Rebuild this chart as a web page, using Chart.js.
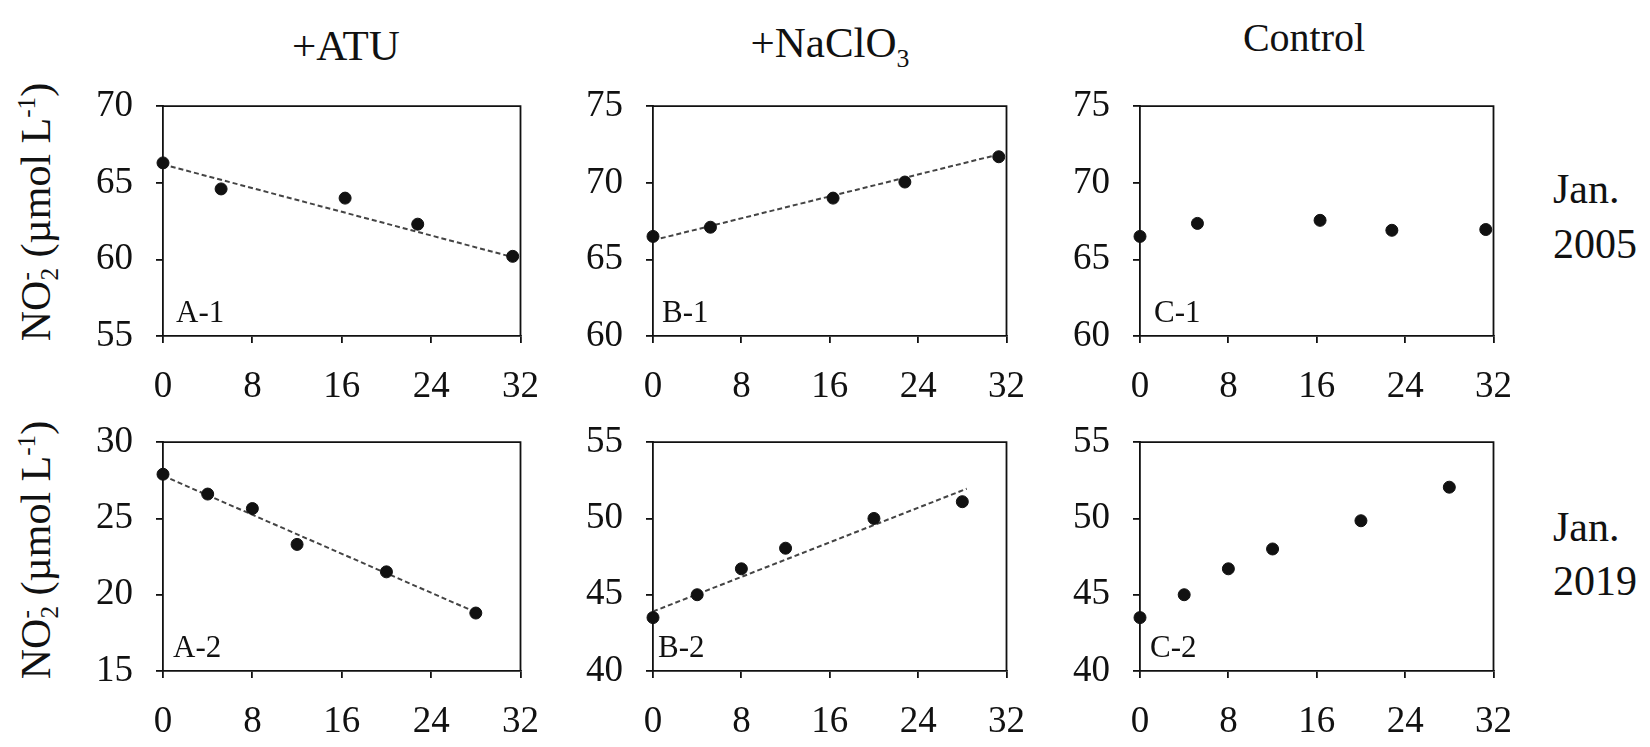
<!DOCTYPE html>
<html>
<head>
<meta charset="utf-8">
<script src="https://cdn.jsdelivr.net/npm/chart.js@4.4.0/dist/chart.umd.min.js"></script>
<style>
    body {
        margin: 0;
        width: 1650px;
        height: 747px;
        overflow: hidden;
        position: relative;
        background: #fff;
        color: #111;
        font-family: 'Liberation Serif', 'Times New Roman', serif;
    }
    .panel { position: absolute; }
    .txt { position: absolute; white-space: nowrap; line-height: 1; }
    .title { font-size: 43px; transform: translateX(-50%); }
    .tag { font-size: 31px; }
    .row { font-size: 42px; }
    .ytitle {
        font-size: 42px;
        transform: translate(-50%, -50%) rotate(-90deg);
    }
    .ytitle sup, .ytitle sub, .title sub { font-size: 0.6em; line-height: 0; }
    .ss {
        display: inline-block;
        vertical-align: -0.32em;
        font-size: 0.6em;
        line-height: 0.95;
        text-align: left;
    }
    .ss span { display: block; }
</style>
</head>
<body>

<div class="txt title" style="left:346px; top:24px;">+ATU</div>
<div class="txt title" style="left:830px; top:21px;">+NaClO<sub>3</sub></div>
<div class="txt title" style="left:1304px; top:18px; font-size:40px;">Control</div>

<div class="txt row" style="left:1553px; top:168px;">Jan.</div>
<div class="txt row" style="left:1553px; top:223px;">2005</div>
<div class="txt row" style="left:1553px; top:506px;">Jan.</div>
<div class="txt row" style="left:1553px; top:560px;">2019</div>

<div class="txt ytitle" style="left:38px; top:212px;">NO<span class="ss"><span>-</span><span>2</span></span> (µmol L<sup>-1</sup>)</div>
<div class="txt ytitle" style="left:38px; top:550px;">NO<span class="ss"><span>-</span><span>2</span></span> (µmol L<sup>-1</sup>)</div>

<script>
// Días de muestreo (eje x)
const days2005 = [0, 5.2, 16.3, 22.8, 31.3];
const days2019 = [0, 4, 8, 12, 20, 28];
const xTicks = [0, 8, 16, 24, 32];

// NO2- (µmol L-1), Jan. 2005
const atu2005 = [66.3, 64.6, 64.0, 62.3, 60.2];
const naclo2005 = [66.5, 67.1, 69.0, 70.05, 71.7];
const control2005 = [66.5, 67.35, 67.55, 66.9, 66.95];

// NO2- (µmol L-1), Jan. 2019
const atu2019 = [27.9, 26.6, 25.65, 23.3, 21.5, 18.8];
const naclo2019 = [43.5, 45.0, 46.7, 48.05, 50.0, 51.1];
const control2019 = [43.5, 45.0, 46.7, 48.0, 49.85, 52.05];

// Líneas de tendencia (extremos)
const trendDaysA1 = [0, 31.3];
const trendA1 = [66.2, 60.15];
const trendDaysB1 = [0, 31.3];
const trendB1 = [66.25, 71.85];
const trendDaysA2 = [0, 28];
const trendA2 = [27.8, 18.85];
const trendDaysB2 = [0, 28.4];
const trendB2 = [43.9, 51.95];

// Rangos del eje y
const yRangeA1 = [55, 70];
const yRangeB1 = [60, 75];
const yRangeC1 = [60, 75];
const yRangeA2 = [15, 30];
const yRangeB2 = [40, 55];
const yRangeC2 = [40, 55];

const FONT = "'Liberation Serif', 'Times New Roman', serif";
const INK = '#111';

function toPoints(xs, ys) {
    return xs.map((x, i) => ({ x: x, y: ys[i] }));
}

// Marco superior y derecho del área del gráfico
const framePlugin = {
    id: 'frame',
    beforeDatasetsDraw(chart) {
        const { ctx, chartArea: a } = chart;
        ctx.save();
        ctx.strokeStyle = INK;
        ctx.lineWidth = 1.8;
        ctx.beginPath();
        ctx.moveTo(a.left, a.top);
        ctx.lineTo(a.right, a.top);
        ctx.lineTo(a.right, a.bottom);
        ctx.stroke();
        ctx.restore();
    }
};

const panels = [
    { tag: 'A-1', xs: days2005, ys: atu2005, tx: trendDaysA1, ty: trendA1, range: yRangeA1, left: 163, right: 531, top: 91, bottom: 336, tagDx: 13 },
    { tag: 'B-1', xs: days2005, ys: naclo2005, tx: trendDaysB1, ty: trendB1, range: yRangeB1, left: 653, right: 1017, top: 91, bottom: 336, tagDx: 9 },
    { tag: 'C-1', xs: days2005, ys: control2005, tx: null, ty: null, range: yRangeC1, left: 1140, right: 1504, top: 91, bottom: 336, tagDx: 14 },
    { tag: 'A-2', xs: days2019, ys: atu2019, tx: trendDaysA2, ty: trendA2, range: yRangeA2, left: 163, right: 531, top: 427, bottom: 671, tagDx: 10 },
    { tag: 'B-2', xs: days2019, ys: naclo2019, tx: trendDaysB2, ty: trendB2, range: yRangeB2, left: 653, right: 1017, top: 427, bottom: 671, tagDx: 5 },
    { tag: 'C-2', xs: days2019, ys: control2019, tx: null, ty: null, range: yRangeC2, left: 1140, right: 1504, top: 427, bottom: 671, tagDx: 10 }
];

function makePanel(p) {
    const yw = 125, pt = 30, pr = 30, xh = 80;
    const w = yw + (p.right - p.left) + pr;
    const h = pt + (p.bottom - p.top) + xh;

    const box = document.createElement('div');
    box.className = 'panel';
    box.style.left = (p.left - yw) + 'px';
    box.style.top = (p.top - pt) + 'px';
    box.style.width = w + 'px';
    box.style.height = h + 'px';
    const canvas = document.createElement('canvas');
    canvas.width = w;
    canvas.height = h;
    canvas.style.width = w + 'px';
    canvas.style.height = h + 'px';
    box.appendChild(canvas);
    document.body.appendChild(box);

    // Etiqueta del panel (A-1, B-1, ...)
    const tag = document.createElement('div');
    tag.className = 'txt tag';
    tag.textContent = p.tag;
    tag.style.left = (p.left + p.tagDx) + 'px';
    tag.style.top = (p.bottom - 40) + 'px';
    document.body.appendChild(tag);

    const datasets = [{
        data: toPoints(p.xs, p.ys),
        showLine: false,
        pointRadius: 6,
        pointHoverRadius: 6,
        backgroundColor: INK,
        borderColor: INK,
        clip: false,
        order: 0
    }];
    if (p.tx) {
        datasets.push({
            data: toPoints(p.tx, p.ty),
            showLine: true,
            borderColor: '#444',
            borderWidth: 2,
            borderDash: [5, 3],
            pointRadius: 0,
            fill: false,
            clip: false,
            order: 1
        });
    }

    const axisGrid = { drawOnChartArea: false, drawTicks: true, tickLength: 7, color: INK, lineWidth: 1.8 };
    const axisBorder = { display: true, color: INK, width: 1.8 };
    const tickFont = { family: FONT, size: 37 };

    new Chart(canvas, {
        type: 'scatter',
        data: { datasets: datasets },
        options: {
            responsive: false,
            animation: false,
            events: [],
            layout: { padding: { top: pt, right: pr, left: 0, bottom: 0 } },
            plugins: { legend: { display: false }, tooltip: { enabled: false } },
            scales: {
                x: {
                    type: 'linear',
                    min: xTicks[0],
                    max: xTicks[xTicks.length - 1],
                    afterBuildTicks: s => { s.ticks = xTicks.map(v => ({ value: v })); },
                    ticks: { font: tickFont, color: INK, padding: 22, maxRotation: 0, autoSkip: false },
                    grid: axisGrid,
                    border: axisBorder,
                    afterFit: s => { s.height = xh; }
                },
                y: {
                    min: p.range[0],
                    max: p.range[1],
                    ticks: { stepSize: 5, font: tickFont, color: INK, padding: 23 },
                    grid: axisGrid,
                    border: axisBorder,
                    afterFit: s => { s.width = yw; }
                }
            }
        },
        plugins: [framePlugin]
    });
}

panels.forEach(makePanel);
</script>
</body>
</html>
